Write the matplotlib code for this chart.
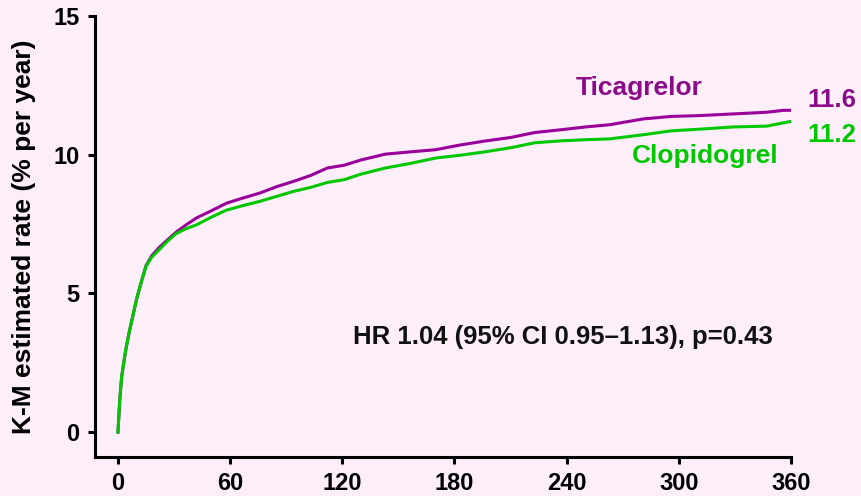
import matplotlib
matplotlib.use("Agg")
import matplotlib.pyplot as plt

# days since randomisation and K-M event rates (% per year)
days = [0, 1, 2, 4, 6, 8, 10, 12, 15, 18, 22, 26, 31, 36, 42, 50, 58, 66, 76, 85,
        94, 103, 112, 121, 130, 143, 156, 170, 183, 196, 210, 223, 237, 250, 263,
        281, 296, 311, 329, 347, 356, 360]
ticagrelor = [0, 1.2, 2.0, 2.9, 3.6, 4.2, 4.8, 5.3, 6.0, 6.35, 6.65, 6.9, 7.2, 7.45,
              7.72, 7.98, 8.25, 8.42, 8.62, 8.85, 9.04, 9.25, 9.52, 9.62, 9.81, 10.02,
              10.1, 10.18, 10.35, 10.49, 10.62, 10.8, 10.9, 11.0, 11.08, 11.29, 11.38,
              11.41, 11.47, 11.53, 11.6, 11.6]
clopidogrel = [0, 1.2, 2.0, 2.9, 3.6, 4.2, 4.8, 5.3, 5.97, 6.3, 6.57, 6.85, 7.15, 7.32,
               7.47, 7.75, 8.0, 8.15, 8.32, 8.5, 8.68, 8.82, 9.0, 9.1, 9.3, 9.52, 9.68,
               9.88, 9.98, 10.1, 10.25, 10.43, 10.5, 10.54, 10.57, 10.72, 10.86, 10.92,
               11.0, 11.03, 11.15, 11.2]
final_rates = [11.6, 11.2]
hr_text = "HR 1.04 (95% CI 0.95\u20131.13), p=0.43"

bg = "#FCEFFA"
purple = "#990099"
purple_txt = "#8A0A8A"
green = "#00C800"

plt.rcParams["font.family"] = ["Liberation Sans", "DejaVu Sans"]
plt.rcParams["font.weight"] = "bold"

fig = plt.figure(figsize=(8.61, 4.96), dpi=100, facecolor=bg)
ax = fig.add_axes([0.1103, 0.0786, 0.8084, 0.8891])
ax.set_facecolor(bg)

ax.plot(days, ticagrelor, color=purple, lw=2.2, solid_joinstyle="miter")
ax.plot(days, clopidogrel, color=green, lw=2.2, solid_joinstyle="miter")

ax.set_xlim(-12.3, 360)
ax.set_ylim(-0.9, 15)
ax.set_xticks(range(0, 361, 60))
ax.set_yticks([0, 5, 10, 15])

for s in ["top", "right"]:
    ax.spines[s].set_visible(False)
for s in ["left", "bottom"]:
    ax.spines[s].set_linewidth(2.2)
ax.tick_params(width=2.2, length=5, labelsize=17, pad=6)
for lbl in ax.get_xticklabels() + ax.get_yticklabels():
    lbl.set_fontweight("bold")

ax.set_ylabel("K-M estimated rate (% per year)", fontsize=19, fontweight="bold")
ax.yaxis.set_label_coords(-0.085, 0.5)

# series names and end-of-follow-up rates
ax.text(278.8, 12.42, "Ticagrelor", color=purple_txt,
        fontsize=19, fontweight="bold", ha="center", va="center")
ax.text(314, 9.96, "Clopidogrel", color=green,
        fontsize=19, fontweight="bold", ha="center", va="center")
ax.text(368.5, 11.99, f"{final_rates[0]:.1f}", color=purple_txt,
        fontsize=18.5, fontweight="bold", ha="left", va="center", clip_on=False)
ax.text(368.5, 10.72, f"{final_rates[1]:.1f}", color=green,
        fontsize=18.5, fontweight="bold", ha="left", va="center", clip_on=False)
ax.text(238, 3.43, hr_text, color="#111111", fontsize=18.5, fontweight="bold",
        ha="center", va="center")

fig.savefig("out.png", dpi=100, facecolor=bg)
